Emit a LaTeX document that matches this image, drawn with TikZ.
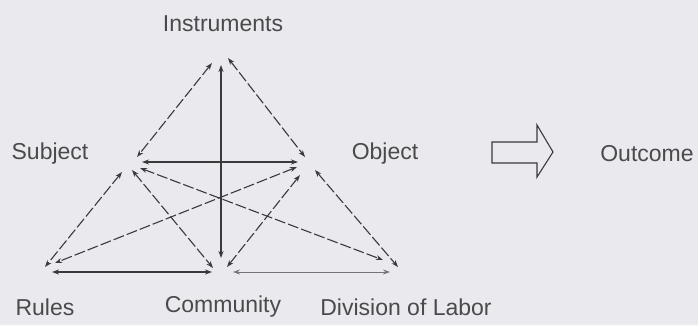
\documentclass[tikz,border=0pt]{standalone}
\usepackage{fontspec}
\setmainfont{Liberation Sans}
\usetikzlibrary{arrows.meta}
\definecolor{bg}{HTML}{EAEAEE}
\definecolor{ink}{HTML}{3A3A3C}
\definecolor{txt}{HTML}{4A4A4C}
\tikzset{
  lbl/.style={font=\fontsize{23}{26}\selectfont, text=txt, inner sep=0pt},
  link/.style={draw=ink, line width=1.1pt, {Stealth[length=7pt,width=5pt]}-{Stealth[length=7pt,width=5pt]}},
  dlink/.style={link, dash pattern=on 11pt off 3pt},
  slink/.style={link},
}
\begin{document}
\begin{tikzpicture}[x=1pt,y=-1pt]
\fill[bg] (0,0) rectangle (698,325);
\useasboundingbox (0,0) rectangle (698,325);
% labels
\node[lbl] (inst) at (223,24) {Instruments};
\node[lbl] (subj) at (50,154) {Subject};
\node[lbl] (obj) at (385,154) {Object};
\node[lbl] (out) at (647,154) {Outcome};
\node[lbl] (rules) at (45,307) {Rules};
\node[lbl] (comm) at (223,307) {Community};
\node[lbl] (div) at (406,307) {Division of Labor};
% endpoints
\coordinate (iS) at (212,63);   \coordinate (sI) at (137,157);
\coordinate (iO) at (228,58);   \coordinate (oI) at (305,157);
\coordinate (iC) at (221,65);   \coordinate (cI) at (221,258);
\coordinate (sO) at (142,162);  \coordinate (oS) at (298,162);
\coordinate (sR) at (122,172);  \coordinate (rS) at (45,267);
\coordinate (sC) at (132,170);  \coordinate (cS) at (213,268);
\coordinate (sD) at (140,168);  \coordinate (dS) at (383,260);
\coordinate (oR) at (297,167);  \coordinate (rO) at (55,263);
\coordinate (oC) at (300,175);  \coordinate (cO) at (227,267);
\coordinate (oD) at (315,170);  \coordinate (dO) at (398,267);
\coordinate (rC) at (52,272);   \coordinate (cR) at (212,272);
\coordinate (cD) at (233,272);  \coordinate (dC) at (390,272);
% connectors
\draw[dlink] (iS) -- (sI);
\draw[dlink] (iO) -- (oI);
\draw[slink] (iC) -- (cI);
\draw[slink] (sO) -- (oS);
\draw[dlink] (sR) -- (rS);
\draw[dlink] (sC) -- (cS);
\draw[dlink] (sD) -- (dS);
\draw[dlink] (oR) -- (rO);
\draw[dlink] (oC) -- (cO);
\draw[dlink] (oD) -- (dO);
\draw[slink, line width=1.8pt] (rC) -- (cR);
\draw[slink, draw=ink!70, line width=0.9pt] (cD) -- (dC);
% hollow arrow
\draw[ink, line width=1.1pt, line join=miter] (492,142) -- (537,142) -- (537,125) -- (553,152) -- (537,177) -- (537,163) -- (492,163) -- cycle;
\end{tikzpicture}
\end{document}
